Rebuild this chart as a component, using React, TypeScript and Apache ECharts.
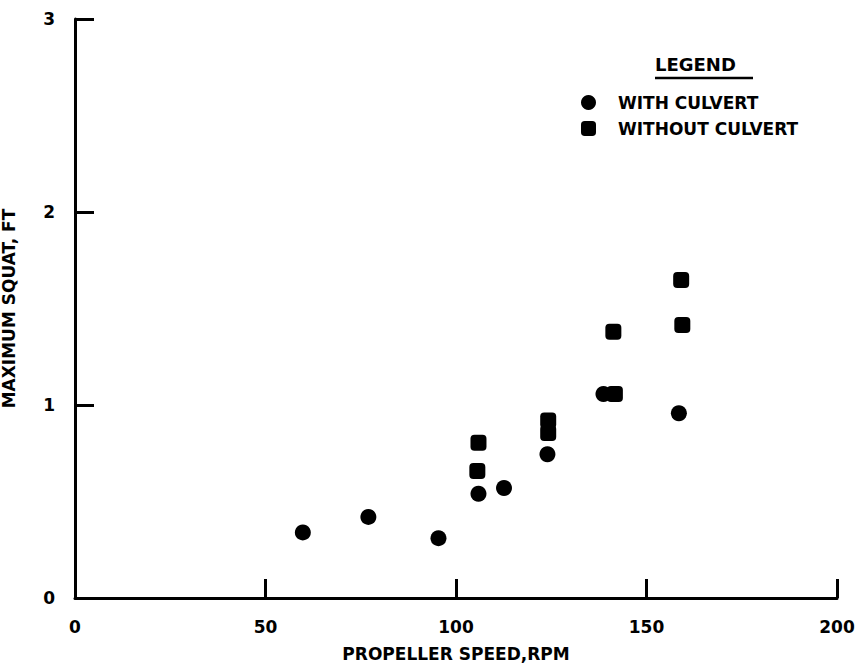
import React, { useEffect, useRef } from "react";
import * as echarts from "echarts";

const withCulvert: [number, number][] = [
  [59.8, 0.34],
  [77.0, 0.42],
  [95.4, 0.31],
  [105.9, 0.54],
  [112.6, 0.57],
  [124.0, 0.745],
  [138.7, 1.057],
  [158.5, 0.957],
];

const withoutCulvert: [number, number][] = [
  [105.9, 0.805],
  [105.6, 0.658],
  [124.2, 0.92],
  [124.2, 0.855],
  [141.3, 1.38],
  [141.7, 1.057],
  [159.1, 1.648],
  [159.4, 1.415],
];

const seriesNames = ["WITH CULVERT", "WITHOUT CULVERT"];
const xTitle = "PROPELLER SPEED,RPM";
const yTitle = "MAXIMUM SQUAT, FT";
const legendTitle = "LEGEND";

const FONT = "'DejaVu Sans', sans-serif";

export default function App() {
  const ref = useRef<HTMLDivElement>(null);
  useEffect(() => {
    document.body.style.margin = "0";
    const chart = echarts.init(ref.current!, null, { renderer: "svg" });
    const axisCommon = {
      axisLine: { show: true, lineStyle: { color: "#000", width: 3 } },
      axisTick: { show: true, inside: true, length: 19, lineStyle: { color: "#000", width: 3 } },
      splitLine: { show: false },
    };
    chart.setOption({
      animation: false,
      backgroundColor: "#fff",
      textStyle: { fontFamily: FONT },
      grid: { left: 75, right: 22, top: 19, bottom: 67, containLabel: false, outerBoundsMode: "none" },
      xAxis: {
        type: "value",
        min: 0,
        max: 200,
        interval: 50,
        ...axisCommon,
        axisLabel: { color: "#000", fontSize: 17, fontWeight: "bold", margin: 20, fontFamily: FONT },
        name: xTitle,
        nameLocation: "middle",
        nameGap: 47,
        nameTextStyle: { color: "#000", fontSize: 17, fontWeight: "bold", fontFamily: FONT },
      },
      yAxis: {
        type: "value",
        min: 0,
        max: 3,
        interval: 1,
        ...axisCommon,
        axisLabel: { color: "#000", fontSize: 17, fontWeight: "bold", margin: 20, fontFamily: FONT },
        name: yTitle,
        nameLocation: "middle",
        nameGap: 58,
        nameRotate: 90,
        nameTextStyle: { color: "#000", fontSize: 17, fontWeight: "bold", fontFamily: FONT },
      },
      legend: {
        orient: "vertical",
        left: 581,
        top: 94,
        padding: 0,
        itemWidth: 15,
        itemHeight: 15,
        itemGap: 9,
        data: [
          { name: seriesNames[0], icon: "circle" },
          { name: seriesNames[1], icon: "roundRect" },
        ],
        textStyle: { color: "#000", fontSize: 17, fontWeight: "bold", fontFamily: FONT, padding: [0, 0, 0, 17] },
      },
      graphic: [
        {
          type: "text",
          left: 655,
          top: 55,
          style: { text: legendTitle, fontSize: 18, fontWeight: "bold", fontFamily: FONT, fill: "#000" },
        },
        {
          type: "line",
          shape: { x1: 655, y1: 78, x2: 753, y2: 78 },
          style: { stroke: "#000", lineWidth: 2.5 },
        },
      ],
      series: [
        {
          name: seriesNames[0],
          type: "scatter",
          symbol: "circle",
          symbolSize: 16,
          itemStyle: { color: "#000", opacity: 1 },
          data: withCulvert,
        },
        {
          name: seriesNames[1],
          type: "scatter",
          symbol: "roundRect",
          symbolSize: 16,
          itemStyle: { color: "#000", opacity: 1 },
          data: withoutCulvert,
        },
      ],
    });
    return () => chart.dispose();
  }, []);
  return <div ref={ref} style={{ width: 859, height: 665 }} />;
}
